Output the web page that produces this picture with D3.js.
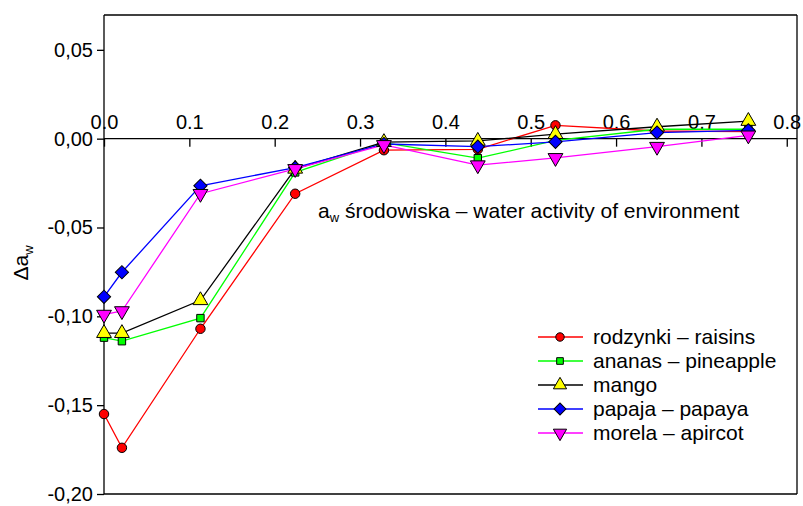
<!DOCTYPE html>
<html>
<head>
<meta charset="utf-8">
<script src="https://cdn.jsdelivr.net/npm/d3@7"></script>
<style>
  body{margin:0;background:#fff;}
  svg text{font-family:"Liberation Sans",Arial,sans-serif;fill:#000;}
</style>
</head>
<body>
<svg id="chart" width="803" height="506"></svg>
<script>
/* ----- data ------------------------------------------------- */
const awEnv   = [0, 0.021, 0.113, 0.224, 0.328, 0.438, 0.529, 0.648, 0.755];
const raisins = [-0.155, -0.174, -0.107, -0.031, -0.0065, -0.006, 0.0075, 0.0043, 0.004];
const pineapple = [-0.112, -0.114, -0.101, -0.019, -0.0022, -0.011, -0.001, 0.0053, 0.0053];
const mango   = [-0.1095, -0.1095, -0.091, -0.017, -0.002, -0.0013, 0.0025, 0.0067, 0.0099];
const papaya  = [-0.089, -0.0752, -0.0265, -0.0163, -0.003, -0.0045, -0.0018, 0.0034, 0.0047];
const apricot = [-0.099, -0.097, -0.031, -0.017, -0.0035, -0.0149, -0.0108, -0.0045, 0.0019];
const seriesNames = ['rodzynki – raisins','ananas – pineapple','mango','papaja – papaya','morela – apircot'];
const xTicks = [0,0.1,0.2,0.3,0.4,0.5,0.6,0.7,0.8];
const yTicks = [0.05,0,-0.05,-0.10,-0.15,-0.20];

/* ----- setup ------------------------------------------------ */
const svg = d3.select('#chart'),
      M   = {left:104,right:6,top:15,bottom:12},
      W   = 803, H = 506;

const x = d3.scaleLinear().domain([0,0.812]).range([M.left, W-M.right]);
const y = d3.scaleLinear().domain([-0.20,0.0696]).range([H-M.bottom, M.top]);

const series = [
  {name:seriesNames[0], vals:raisins,   line:'#ff0000', fill:'#ff0000', sym:d3.symbolCircle,   size:70, rot:0},
  {name:seriesNames[1], vals:pineapple, line:'#00ff00', fill:'#00ff00', sym:d3.symbolSquare,   size:55, rot:0},
  {name:seriesNames[2], vals:mango,     line:'#000000', fill:'#ffff00', sym:d3.symbolTriangle, size:95, rot:0},
  {name:seriesNames[3], vals:papaya,    line:'#0000ff', fill:'#0000ff', sym:d3.symbolSquare,   size:88, rot:45},
  {name:seriesNames[4], vals:apricot,   line:'#ff00ff', fill:'#ff00ff', sym:d3.symbolTriangle, size:95, rot:180}
];

/* ----- frame ------------------------------------------------ */
const fr = svg.append('g').attr('stroke','#000').attr('stroke-width',1.3);
fr.append('line').attr('x1',M.left).attr('x2',W-M.right).attr('y1',M.top).attr('y2',M.top);
fr.append('line').attr('x1',W-M.right).attr('x2',W-M.right).attr('y1',M.top).attr('y2',H-M.bottom);
fr.append('line').attr('x1',M.left).attr('x2',W-M.right).attr('y1',H-M.bottom).attr('y2',H-M.bottom);

/* ----- axes ------------------------------------------------- */
const yAx = svg.append('g').attr('transform',`translate(${M.left},0)`)
  .call(d3.axisLeft(y).tickValues(yTicks).tickSize(7).tickPadding(4)
    .tickFormat(d=>d3.format('.2f')(d).replace('.',',').replace('−','-')));
yAx.select('.domain').attr('d',`M0,${M.top}V${H-M.bottom}`);

const xAx = svg.append('g').attr('transform',`translate(0,${y(0)})`)
  .call(d3.axisBottom(x).tickValues(xTicks).tickSize(8).tickFormat(d3.format('.1f')));
xAx.select('.domain').attr('d',`M${M.left},0H${W-M.right}`);
xAx.selectAll('text').attr('y',-10).attr('dy','0');

svg.selectAll('.tick text').style('font-size','20px').style('font-family','"Liberation Sans",Arial,sans-serif');
svg.selectAll('.domain, .tick line').attr('stroke','#000').attr('stroke-width',1.3);

/* axis titles */
svg.append('text')
  .attr('transform','translate(28,263) rotate(-90)')
  .attr('text-anchor','middle').style('font-size','21px')
  .html('Δa<tspan dy="5" font-size="13">w</tspan>');

svg.append('text')
  .attr('x',318).attr('y',218).style('font-size','21px')
  .html('a<tspan dy="4" font-size="13">w</tspan><tspan dy="-4"> środowiska – water activity of environment</tspan>');

/* ----- lines & markers -------------------------------------- */
const line = d3.line().x((d,i)=>x(awEnv[i])).y(d=>y(d));

series.forEach(s=>{
  svg.append('path').datum(s.vals)
    .attr('d',line).attr('fill','none')
    .attr('stroke',s.line).attr('stroke-width',1.3);
});
series.forEach(s=>{
  svg.append('g').selectAll('path').data(s.vals).join('path')
    .attr('d',d3.symbol(s.sym,s.size))
    .attr('transform',(d,i)=>`translate(${x(awEnv[i])},${y(d)}) rotate(${s.rot})`)
    .attr('fill',s.fill).attr('stroke','#000').attr('stroke-width',1);
});

/* ----- legend ----------------------------------------------- */
const lg = svg.append('g').attr('transform','translate(538,337)');
series.forEach((s,i)=>{
  const row = lg.append('g').attr('transform',`translate(0,${i*24})`);
  row.append('line').attr('x1',0).attr('x2',45).attr('stroke',s.line).attr('stroke-width',1.3);
  row.append('path').attr('d',d3.symbol(s.sym,s.size*0.8))
    .attr('transform',`translate(22,0) rotate(${s.rot})`)
    .attr('fill',s.fill).attr('stroke','#000').attr('stroke-width',1);
  row.append('text').attr('x',55).attr('y',7).style('font-size','21px').text(s.name);
});
</script>
</body>
</html>
